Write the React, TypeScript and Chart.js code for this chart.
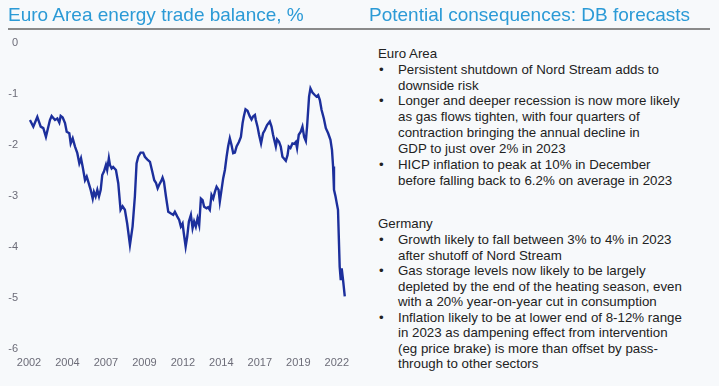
import React, { useEffect, useRef } from "react";
import { Chart, registerables } from "chart.js";

Chart.register(...registerables);

// Decimal year of each observation
const years = [
  2002.06, 2002.28, 2002.54, 2002.76, 2002.93, 2003.1, 2003.36, 2003.47, 2003.69, 2003.84,
  2003.97, 2004.06, 2004.19, 2004.34, 2004.45, 2004.62, 2004.71, 2004.84, 2004.99, 2005.14,
  2005.27, 2005.38, 2005.49, 2005.64, 2005.75, 2005.85, 2006.01, 2006.14, 2006.22, 2006.33,
  2006.44, 2006.55, 2006.66, 2006.76, 2006.87, 2007.0, 2007.08, 2007.19, 2007.26, 2007.37,
  2007.47, 2007.65, 2007.8, 2007.95, 2008.08, 2008.23, 2008.38, 2008.56, 2008.73, 2008.88,
  2008.99, 2009.1, 2009.25, 2009.42, 2009.53, 2009.68, 2009.86, 2010.01, 2010.14, 2010.25,
  2010.36, 2010.46, 2010.62, 2010.68, 2010.77, 2010.9, 2011.05, 2011.2, 2011.37, 2011.48,
  2011.63, 2011.76, 2011.87, 2011.98, 2012.06, 2012.18, 2012.28, 2012.39, 2012.52, 2012.63,
  2012.73, 2012.84, 2012.95, 2013.06, 2013.17, 2013.28, 2013.38, 2013.54, 2013.64, 2013.75,
  2013.86, 2013.97, 2014.08, 2014.19, 2014.32, 2014.4, 2014.62, 2014.73, 2014.84, 2014.94,
  2015.05, 2015.16, 2015.27, 2015.38, 2015.49, 2015.64, 2015.77, 2015.88, 2015.96, 2016.07,
  2016.2, 2016.35, 2016.46, 2016.56, 2016.68, 2016.74, 2016.85, 2016.95, 2017.08, 2017.21,
  2017.32, 2017.47, 2017.65, 2017.76, 2017.86, 2018.04, 2018.12, 2018.25, 2018.36, 2018.47,
  2018.69, 2018.8, 2018.88, 2018.99, 2019.12, 2019.23, 2019.34, 2019.42, 2019.53, 2019.66,
  2019.77, 2019.88, 2019.99, 2020.07, 2020.2, 2020.29, 2020.42, 2020.57, 2020.68, 2020.79,
  2020.9, 2021.01, 2021.16, 2021.29, 2021.44, 2021.59, 2021.69, 2021.76, 2021.82, 2021.92,
  2021.98, 2022.08, 2022.19, 2022.26, 2022.32, 2022.41, 2022.52,
];

// Energy trade balance, % of GDP
const balance = [
  -1.51, -1.64, -1.45, -1.64, -1.67, -1.84, -1.51, -1.43, -1.51, -1.48,
  -1.56, -1.43, -1.46, -1.57, -1.74, -1.77, -1.97, -1.87, -2.03, -2.16,
  -2.36, -2.26, -2.43, -2.69, -2.62, -2.72, -2.88, -3.05, -2.92, -3.01,
  -2.88, -3.01, -2.88, -2.59, -2.52, -2.39, -2.49, -2.26, -2.39, -2.46,
  -2.43, -2.49, -2.75, -3.27, -3.2, -3.27, -3.54, -3.96, -3.6, -3.01,
  -2.36, -2.23, -2.15, -2.15, -2.23, -2.28, -2.33, -2.52, -2.69, -2.74,
  -2.85, -2.78, -2.69, -2.64, -2.72, -3.01, -3.31, -3.34, -3.37, -3.31,
  -3.4, -3.47, -3.6, -3.54, -3.73, -3.99, -3.8, -3.5, -3.37, -3.63,
  -3.5, -3.6, -3.44, -3.57, -3.05, -3.08, -3.21, -3.24, -3.22, -3.27,
  -2.98, -3.05, -2.92, -2.82, -2.88, -3.11, -2.65, -2.49, -2.23, -2.03,
  -1.87, -2.0, -2.16, -2.15, -2.03, -1.94, -1.84, -1.57, -1.44, -1.3,
  -1.33, -1.44, -1.5, -1.44, -1.41, -1.51, -1.64, -1.8, -1.97, -1.77,
  -1.71, -1.61, -1.54, -1.64, -1.8, -2.03, -1.89, -1.94, -2.03, -2.23,
  -2.31, -2.2, -2.03, -2.06, -1.97, -1.98, -1.94, -2.06, -1.8, -1.74,
  -1.64, -1.84, -1.92, -1.64, -1.05, -0.89, -0.97, -1.02, -1.05, -1.02,
  -1.12, -1.31, -1.48, -1.67, -1.77, -1.9, -2.1, -2.42, -2.88, -3.01,
  -3.11, -3.27, -4.39, -4.65, -4.42, -4.65, -4.97,
];

// Positions of the x tick labels (shown as the year)
const xTickValues = [2002, 2004.5, 2007, 2009.5, 2012, 2014.5, 2017, 2019.5, 2022];

const leftTitle = "Euro Area energy trade balance, %";
const rightTitle = "Potential consequences: DB forecasts";

type TextLine = { text: string; bullet?: boolean; heading?: boolean; baseline: number };

const panelLines: TextLine[] = [
  { text: "Euro Area", heading: true, baseline: 58 },
  { text: "Persistent shutdown of Nord Stream adds to", bullet: true, baseline: 74 },
  { text: "downside risk", baseline: 90 },
  { text: "Longer and deeper recession is now more likely", bullet: true, baseline: 105.5 },
  { text: "as gas flows tighten, with four quarters of", baseline: 121.5 },
  { text: "contraction bringing the annual decline in", baseline: 137.5 },
  { text: "GDP to just over 2% in 2023", baseline: 153 },
  { text: "HICP inflation to peak at 10% in December", bullet: true, baseline: 169.5 },
  { text: "before falling back to 6.2% on average in 2023", baseline: 185.5 },
  { text: "Germany", heading: true, baseline: 228.3 },
  { text: "Growth likely to fall between 3% to 4% in 2023", bullet: true, baseline: 244.3 },
  { text: "after shutoff of Nord Stream", baseline: 259.8 },
  { text: "Gas storage levels now likely to be largely", bullet: true, baseline: 275.3 },
  { text: "depleted by the end of the heating season, even", baseline: 290.8 },
  { text: "with a 20% year-on-year cut in consumption", baseline: 306.3 },
  { text: "Inflation likely to be at lower end of 8-12% range", bullet: true, baseline: 321.8 },
  { text: "in 2023 as dampening effect from intervention", baseline: 337.3 },
  { text: "(eg price brake) is more than offset by pass-", baseline: 352.8 },
  { text: "through to other sectors", baseline: 368.3 },
];

const FONT = "'Liberation Sans', Arial, Helvetica, sans-serif";
const BODY_SIZE = 13.3;

function LineChart() {
  const ref = useRef<HTMLCanvasElement | null>(null);
  useEffect(() => {
    if (!ref.current) return;
    const tickFont = { family: FONT, size: 11 };
    const chart = new Chart(ref.current, {
      type: "line",
      data: {
        datasets: [
          {
            data: years.map((x, i) => ({ x, y: balance[i] })),
            borderColor: "#1c2f9c",
            borderWidth: 2.4,
            pointRadius: 0,
            tension: 0,
            fill: false,
          },
        ],
      },
      options: {
        animation: false,
        responsive: true,
        maintainAspectRatio: false,
        layout: { padding: { top: 43, right: 14, bottom: 0, left: 0 } },
        plugins: { legend: { display: false }, tooltip: { enabled: false } },
        scales: {
          x: {
            type: "linear",
            min: 2002,
            max: 2022.6,
            grid: { display: false, drawTicks: false },
            border: { display: false },
            afterBuildTicks: (scale: any) => {
              scale.ticks = xTickValues.map((v) => ({ value: v }));
            },
            afterFit: (scale: any) => {
              scale.height = 37;
            },
            ticks: {
              autoSkip: false,
              maxRotation: 0,
              padding: 7,
              color: "#6c6c78",
              font: tickFont,
              callback: (v: any) => String(Math.floor(Number(v))),
            },
          },
          y: {
            min: -6,
            max: 0,
            grid: { display: false, drawTicks: false },
            border: { display: false },
            afterFit: (scale: any) => {
              scale.width = 29;
            },
            ticks: {
              stepSize: 1,
              padding: 11,
              color: "#6c6c78",
              font: tickFont,
            },
          },
        },
      },
    });
    return () => chart.destroy();
  }, []);
  return (
    <div style={{ position: "absolute", left: 0, top: 0, width: 360, height: 386 }}>
      <canvas ref={ref} />
    </div>
  );
}

export default function App() {
  const lineTop = (baseline: number) => baseline - 11.26;
  return (
    <div
      style={{
        position: "fixed",
        left: 0,
        top: 0,
        width: 719,
        height: 386,
        background: "#f7f9fb",
        overflow: "hidden",
        fontFamily: FONT,
      }}
    >
      <LineChart />
      <div
        style={{
          position: "absolute",
          left: 8,
          top: 5,
          fontSize: 19,
          lineHeight: "19px",
          color: "#2b9ad6",
          whiteSpace: "nowrap",
        }}
      >
        {leftTitle}
      </div>
      <div
        style={{
          position: "absolute",
          left: 369,
          top: 5,
          fontSize: 19,
          lineHeight: "19px",
          color: "#2b9ad6",
          whiteSpace: "nowrap",
        }}
      >
        {rightTitle}
      </div>
      <div
        style={{
          position: "absolute",
          left: 8,
          top: 28,
          width: 702,
          height: 1.5,
          background: "#8a8a8a",
        }}
      />
      {panelLines.map((l, i) => (
        <React.Fragment key={i}>
          {l.bullet && (
            <div
              style={{
                position: "absolute",
                left: 379,
                top: lineTop(l.baseline),
                fontSize: BODY_SIZE,
                lineHeight: `${BODY_SIZE}px`,
                color: "#222",
              }}
            >
              •
            </div>
          )}
          <div
            style={{
              position: "absolute",
              left: l.heading ? 378 : 398,
              top: lineTop(l.baseline),
              fontSize: BODY_SIZE,
              lineHeight: `${BODY_SIZE}px`,
              color: "#222",
              whiteSpace: "nowrap",
            }}
          >
            {l.text}
          </div>
        </React.Fragment>
      ))}
    </div>
  );
}
